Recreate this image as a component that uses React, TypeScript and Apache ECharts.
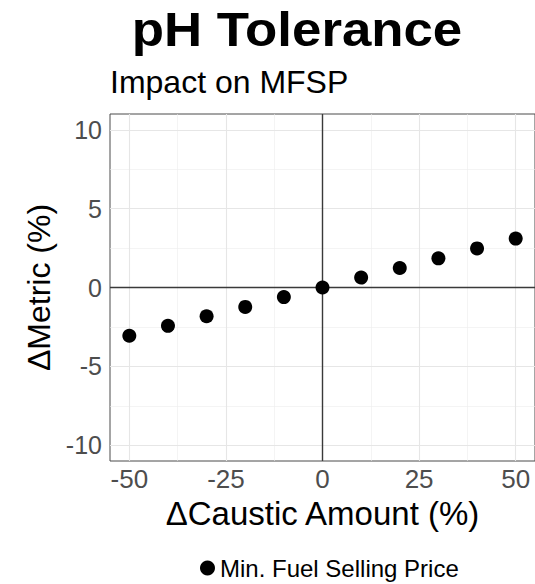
import React, { useEffect, useRef } from "react";
import * as echarts from "echarts";

const caustic = [-50, -40, -30, -20, -10, 0, 10, 20, 30, 40, 50];
const mfsp = [-3.06, -2.43, -1.82, -1.23, -0.61, 0, 0.63, 1.24, 1.85, 2.48, 3.1];
const xMajor = [-50, -25, 0, 25, 50];
const xMinor = [-37.5, -12.5, 12.5, 37.5];
const yMajor = [-10, -5, 0, 5, 10];
const yMinor = [-7.5, -2.5, 2.5, 7.5];
const seriesName = "Min. Fuel Selling Price";

const FONT = "Liberation Sans, Arial, Helvetica, sans-serif";

export default function App() {
  const ref = useRef<HTMLDivElement>(null);
  useEffect(() => {
    if (!ref.current) return;
    const chart = echarts.init(ref.current, undefined, { renderer: "svg" });
    const gridLines: any[] = [];
    xMinor.forEach((v) => gridLines.push({ xAxis: v, lineStyle: { color: "#ededed", width: 0.6, type: "solid" } }));
    yMinor.forEach((v) => gridLines.push({ yAxis: v, lineStyle: { color: "#ededed", width: 0.6, type: "solid" } }));
    xMajor.forEach((v) => gridLines.push({ xAxis: v, lineStyle: { color: "#e6e6e6", width: 1.1, type: "solid" } }));
    yMajor.forEach((v) => gridLines.push({ yAxis: v, lineStyle: { color: "#e6e6e6", width: 1.1, type: "solid" } }));
    const zeroLines = [
      { xAxis: 0, lineStyle: { color: "#3a3a3a", width: 1.4, type: "solid" } },
      { yAxis: 0, lineStyle: { color: "#3a3a3a", width: 1.4, type: "solid" } },
    ];
    chart.setOption({
      animation: false,
      textStyle: { fontFamily: FONT },
      graphic: [
        {
          type: "text",
          x: 297,
          y: 5,
          scaleX: 1.1,
          style: { text: "pH Tolerance", font: `bold 48px ${FONT}`, fill: "#000", align: "center", verticalAlign: "top" },
        },
        {
          type: "text",
          left: 110,
          top: 66,
          style: { text: "Impact on MFSP", font: `32px ${FONT}`, fill: "#000" },
        },
      ],
      grid: {
        left: 110,
        top: 114,
        width: 426,
        height: 347,
        show: true,
        borderColor: "#4a4a4a",
        borderWidth: 1,
        backgroundColor: "#fff",
      },
      legend: {
        data: [seriesName],
        left: 195,
        top: 551,
        icon: "circle",
        itemWidth: 15,
        itemHeight: 15,
        itemGap: 6,
        textStyle: { fontSize: 24, color: "#000", fontFamily: FONT },
      },
      xAxis: {
        type: "value",
        min: -55,
        max: 55,
        name: "\u0394Caustic Amount (%)",
        nameLocation: "middle",
        nameGap: 25,
        nameTextStyle: { fontSize: 33, color: "#000", fontFamily: FONT, verticalAlign: "top" },
        axisLine: { show: false },
        splitLine: { show: false },
        axisTick: { show: true, customValues: xMajor, length: 4, lineStyle: { color: "#333" } },
        axisLabel: { customValues: xMajor, fontSize: 26, color: "#4d4d4d", margin: 5, fontFamily: FONT },
      },
      yAxis: {
        type: "value",
        min: -11,
        max: 11,
        name: "\u0394Metric (%)",
        nameLocation: "middle",
        nameGap: 54,
        nameRotate: 90,
        nameTextStyle: { fontSize: 32, color: "#000", fontFamily: FONT },
        axisLine: { show: false },
        splitLine: { show: false },
        axisTick: { show: true, customValues: yMajor, length: 4, lineStyle: { color: "#333" } },
        axisLabel: { customValues: yMajor, fontSize: 25, color: "#4d4d4d", margin: 8, fontFamily: FONT },
      },
      series: [
        {
          type: "scatter",
          name: "grid",
          data: [],
          silent: true,
          z: 1,
          markLine: { silent: true, symbol: "none", label: { show: false }, data: gridLines, z: 1 },
        },
        {
          type: "scatter",
          name: "zero",
          data: [],
          silent: true,
          z: 2,
          markLine: { silent: true, symbol: "none", label: { show: false }, data: zeroLines, z: 2 },
        },
        {
          type: "scatter",
          name: seriesName,
          data: caustic.map((x, i) => [x, mfsp[i]]),
          symbolSize: 14,
          itemStyle: { color: "#000", opacity: 1 },
          z: 5,
        },
      ],
    });
    return () => chart.dispose();
  }, []);
  return (
    <div
      ref={ref}
      style={{ position: "fixed", left: 0, top: 0, width: 535, height: 584, background: "#fff" }}
    />
  );
}
